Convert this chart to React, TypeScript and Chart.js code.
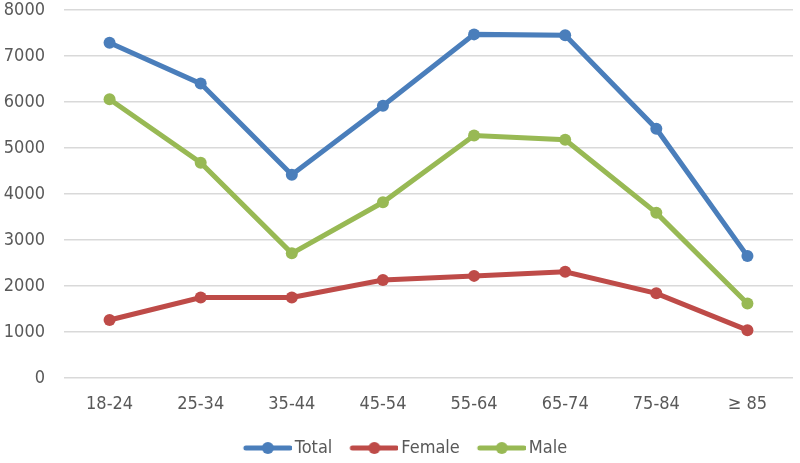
import React, { useEffect, useRef } from "react";
import { Chart, registerables } from "chart.js";

Chart.register(...registerables);

const categories = ["18-24", "25-34", "35-44", "45-54", "55-64", "65-74", "75-84", "≥ 85"];
const totalValues = [7290, 6400, 4420, 5920, 7470, 7450, 5420, 2650];
const femaleValues = [1260, 1750, 1750, 2130, 2220, 2310, 1840, 1040];
const maleValues = [6060, 4680, 2710, 3820, 5270, 5180, 3590, 1620];
const yTicks = [0, 1000, 2000, 3000, 4000, 5000, 6000, 7000, 8000];

const FONT = "'DejaVu Sans Condensed', 'DejaVu Sans', sans-serif";
const TEXT = "#595959";

function legendIcon(color: string): HTMLCanvasElement {
  const c = document.createElement("canvas");
  c.width = 72;
  c.height = 14;
  const ctx = c.getContext("2d")!;
  ctx.strokeStyle = color;
  ctx.lineWidth = 5;
  ctx.lineCap = "round";
  ctx.beginPath();
  ctx.moveTo(26, 7);
  ctx.lineTo(70, 7);
  ctx.stroke();
  ctx.fillStyle = color;
  ctx.beginPath();
  ctx.arc(48, 7, 6, 0, Math.PI * 2);
  ctx.fill();
  return c;
}

export default function App() {
  const ref = useRef<HTMLCanvasElement | null>(null);
  useEffect(() => {
    document.body.style.margin = "0";
    const series = [
      { label: "Total", data: totalValues, color: "#4a7ebb" },
      { label: "Female", data: femaleValues, color: "#be4b48" },
      { label: "Male", data: maleValues, color: "#98b954" },
    ];
    const chart = new Chart(ref.current!, {
      type: "line",
      data: {
        labels: categories,
        datasets: series.map((s) => ({
          label: s.label,
          data: s.data,
          borderColor: s.color,
          backgroundColor: s.color,
          borderWidth: 5,
          pointRadius: 6,
          pointHoverRadius: 6,
          pointBorderWidth: 0,
          pointBackgroundColor: s.color,
          pointBorderColor: s.color,
          pointStyle: "circle",
          tension: 0,
        })),
      },
      options: {
        animation: false,
        responsive: false,
        maintainAspectRatio: false,
        layout: { padding: { top: 0, right: 7, left: 0, bottom: -4 } },
        plugins: {
          tooltip: { enabled: false },
          legend: {
            position: "bottom",
            labels: {
              usePointStyle: true,
              pointStyleWidth: 60,
              boxHeight: 14,
              padding: 0,
              color: TEXT,
              font: { family: FONT, size: 18 },
              generateLabels: () =>
                series.map((s, i) => ({
                  text: s.label,
                  fillStyle: s.color,
                  strokeStyle: s.color,
                  pointStyle: legendIcon(s.color),
                  datasetIndex: i,
                  hidden: false,
                  lineWidth: 0,
                  fontColor: TEXT,
                })),
            },
          },
        },
        scales: {
          x: {
            offset: true,
            grid: { display: false, drawTicks: false },
            border: { display: false },
            ticks: { color: TEXT, font: { family: FONT, size: 18 }, padding: 16 },
            afterFit: (axis: any) => {
              axis.height = 61;
            },
          },
          y: {
            min: 0,
            max: 8000,
            afterBuildTicks: (axis: any) => {
              axis.ticks = yTicks.map((v) => ({ value: v }));
            },
            afterFit: (axis: any) => {
              axis.width = 64;
              axis.paddingTop = 10;
              axis.paddingBottom = 0;
            },
            grid: { color: "#d9d9d9", lineWidth: 1.5, drawTicks: false },
            border: { display: false },
            ticks: {
              color: TEXT,
              font: { family: FONT, size: 18 },
              padding: 19,
              callback: (v: any) => String(v),
            },
          },
        },
      },
    });
    return () => chart.destroy();
  }, []);
  return (
    <div style={{ position: "absolute", left: 0, top: 0, width: 800, height: 463 }}>
      <canvas ref={ref} width={800} height={463} style={{ width: 800, height: 463 }} />
    </div>
  );
}
